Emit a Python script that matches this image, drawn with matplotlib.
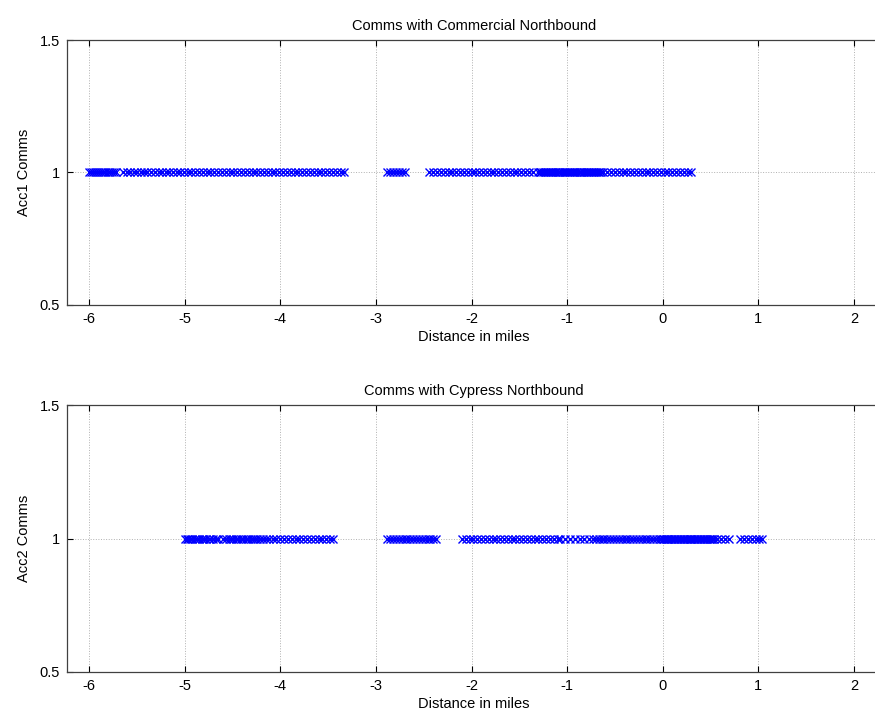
import matplotlib
matplotlib.use("Agg")
import matplotlib.pyplot as plt

plt.rcParams["font.family"] = ["Liberation Sans", "DejaVu Sans"]

# Positions (miles) where each radio link reported comms
acc1_dist = [
    -6.00, -5.98, -5.96, -5.94, -5.92, -5.90, -5.87, -5.85, -5.83, -5.80,
    -5.78, -5.76, -5.74, -5.72,
    -5.64, -5.60, -5.57, -5.53, -5.50, -5.46, -5.43, -5.39, -5.35, -5.31,
    -5.27, -5.24, -5.20, -5.16, -5.12, -5.08, -5.05, -5.01, -4.97, -4.93,
    -4.89, -4.85, -4.81, -4.77, -4.73, -4.69, -4.65, -4.61, -4.57, -4.53,
    -4.49, -4.45, -4.41, -4.37, -4.33, -4.29, -4.25, -4.21, -4.17, -4.13,
    -4.09, -4.05, -4.01, -3.97, -3.93, -3.89, -3.85, -3.81, -3.77, -3.73,
    -3.69, -3.65, -3.61, -3.57, -3.53, -3.49, -3.45, -3.41, -3.37, -3.33,
    -2.88, -2.85, -2.82, -2.79, -2.76, -2.73, -2.70,
    -2.44, -2.40, -2.36, -2.32, -2.28, -2.24, -2.20, -2.16, -2.12, -2.08,
    -2.04, -2.00, -1.96, -1.92, -1.88, -1.84, -1.80, -1.76, -1.72, -1.68,
    -1.64, -1.60, -1.56, -1.52, -1.48, -1.44, -1.40, -1.36,
    -1.30, -1.28, -1.27, -1.25, -1.23, -1.22, -1.20, -1.18, -1.17, -1.15,
    -1.13, -1.12, -1.10, -1.08, -1.07, -1.05, -1.03, -1.02, -1.00, -0.98,
    -0.97, -0.95, -0.93, -0.92, -0.90, -0.88, -0.87, -0.85, -0.83, -0.82,
    -0.80, -0.78, -0.77, -0.75, -0.73, -0.72, -0.70, -0.68, -0.67, -0.65,
    -0.62, -0.58, -0.54, -0.50, -0.46, -0.42, -0.38, -0.34, -0.30, -0.26,
    -0.22, -0.18, -0.14, -0.10, -0.06, -0.02, 0.02, 0.06, 0.10, 0.14,
    0.18, 0.22, 0.26, 0.30,
]
acc1_comms = [1] * len(acc1_dist)

acc2_dist = [
    -5.00, -4.98, -4.96, -4.94, -4.92, -4.89, -4.87, -4.85, -4.82, -4.80,
    -4.78, -4.75, -4.73, -4.70, -4.67, -4.65,
    -4.60, -4.57, -4.54, -4.51, -4.49, -4.46, -4.44, -4.41, -4.39, -4.36,
    -4.34, -4.31, -4.29, -4.26, -4.24, -4.21, -4.18, -4.15,
    -4.12, -4.08, -4.04, -4.00, -3.96, -3.92, -3.88, -3.84, -3.80, -3.76,
    -3.72, -3.68, -3.64, -3.60, -3.56, -3.52, -3.48, -3.45,
    -2.88, -2.85, -2.82, -2.79, -2.76, -2.73, -2.70, -2.67, -2.64, -2.61,
    -2.58, -2.55, -2.52, -2.49, -2.46, -2.43, -2.40, -2.37,
    -2.10, -2.06, -2.02, -1.98, -1.94, -1.90, -1.86, -1.82, -1.78, -1.74,
    -1.70, -1.66, -1.62, -1.58, -1.54, -1.50, -1.46, -1.42, -1.38, -1.34,
    -1.30, -1.26, -1.22, -1.18, -1.14, -1.10, -1.07,
    -1.02, -0.97, -0.92, -0.87, -0.82, -0.77, -0.73,
    -0.70, -0.67, -0.64, -0.61, -0.58, -0.55, -0.52, -0.49, -0.46, -0.43,
    -0.40, -0.37, -0.34, -0.31, -0.28, -0.25, -0.22, -0.19, -0.16, -0.13,
    -0.10, -0.07, -0.04,
    -0.02, 0.00, 0.01, 0.03, 0.04, 0.06, 0.07, 0.09, 0.10, 0.12,
    0.13, 0.15, 0.16, 0.18, 0.19, 0.21, 0.22, 0.24, 0.25, 0.27,
    0.28, 0.30, 0.31, 0.33, 0.34, 0.36, 0.37, 0.39, 0.40, 0.42,
    0.43, 0.45, 0.46, 0.48, 0.49, 0.51, 0.52, 0.54,
    0.57, 0.61, 0.65, 0.69,
    0.81, 0.85, 0.89, 0.93, 0.97, 1.01, 1.04,
]
acc2_comms = [1] * len(acc2_dist)

x_ticks = [-6, -5, -4, -3, -2, -1, 0, 1, 2]
y_ticks = [0.5, 1, 1.5]
y_tick_labels = ["0.5", "1", "1.5"]

panels = [
    ("Comms with Commercial Northbound", "Acc1 Comms", acc1_dist, acc1_comms),
    ("Comms with Cypress Northbound", "Acc2 Comms", acc2_dist, acc2_comms),
]

fig = plt.figure(figsize=(8.75, 7.21), dpi=100)
# axes extend slightly past the right edge of the figure
ax_rects = [
    [0.0766, 0.577, 0.930, 0.3675],
    [0.0766, 0.068, 0.930, 0.370],
]

for rect, (title, ylabel, xs, ys) in zip(ax_rects, panels):
    ax = fig.add_axes(rect)
    ax.plot(xs, ys, linestyle="none", marker="x", color="blue",
            markersize=6, markeredgewidth=1.0)
    ax.set_xlim(-6.23, 2.28)
    ax.set_ylim(0.5, 1.5)
    ax.set_xticks(x_ticks)
    ax.set_xticklabels([str(t) for t in x_ticks])
    ax.set_yticks(y_ticks)
    ax.set_yticklabels(y_tick_labels)
    ax.tick_params(direction="in", length=4, labelsize=10.5, pad=5,
                   top=True, right=True)
    ax.grid(True, linestyle=":", linewidth=0.7, color="#b0b0b0")
    ax.set_axisbelow(True)
    for side in ax.spines.values():
        side.set_linewidth(0.9)
        side.set_color("#404040")
    ax.set_title(title, fontsize=10.5, pad=7)
    ax.set_xlabel("Distance in miles", fontsize=10.5, labelpad=3)
    ax.set_ylabel(ylabel, fontsize=10.5, labelpad=6)

fig.savefig("out.png", dpi=100)
